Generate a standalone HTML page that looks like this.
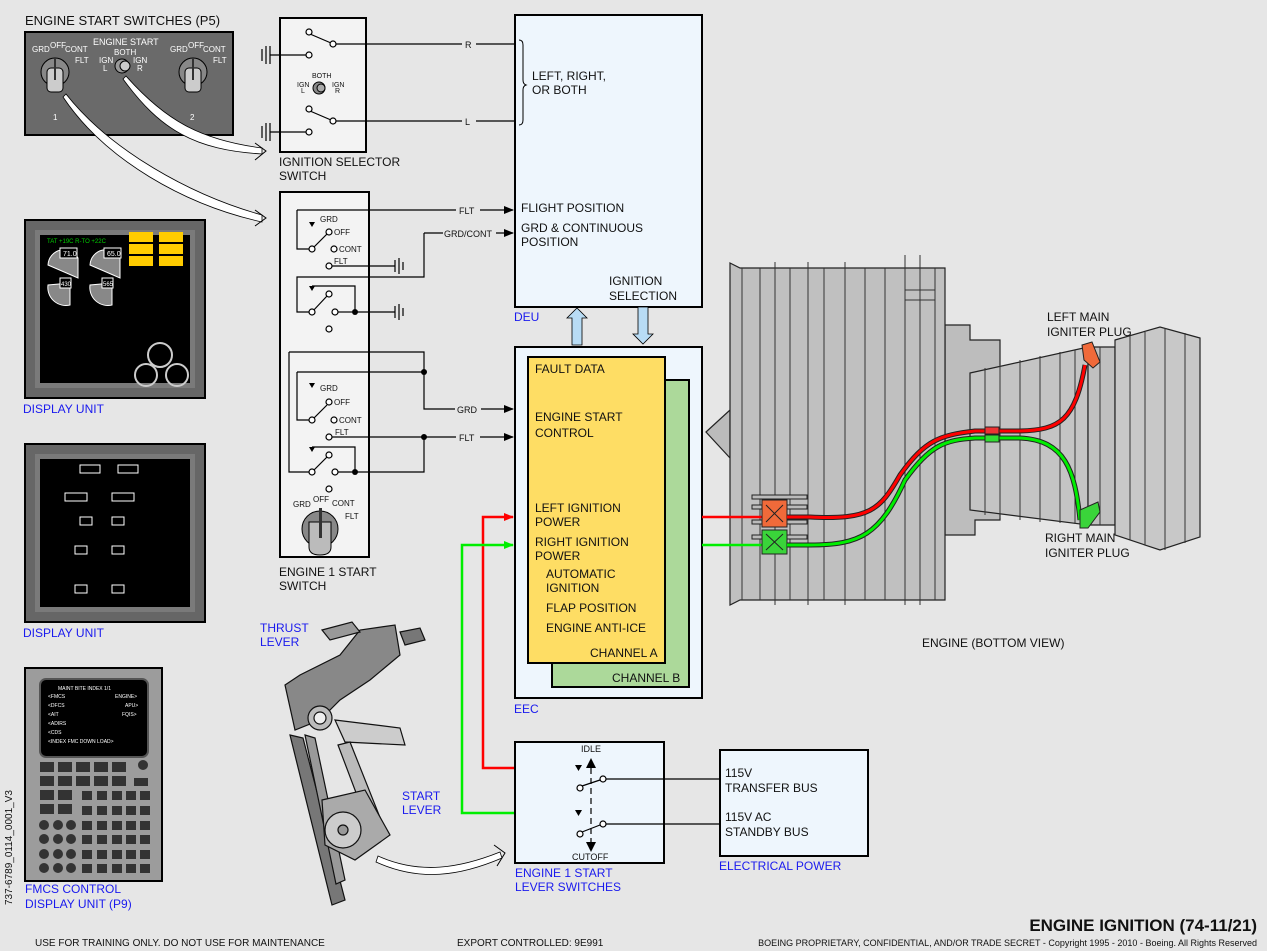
<!DOCTYPE html>
<html><head><meta charset="utf-8"><style>
html,body{margin:0;padding:0;background:#e6e6e6}
svg{display:block}
text{font-family:"Liberation Sans",sans-serif;fill:#111}
.b{fill:#1a1aee}
.w{fill:#fff}
</style></head><body>
<svg width="1267" height="951" viewBox="0 0 1267 951" xmlns="http://www.w3.org/2000/svg">
<defs>
<marker id="ar" markerWidth="10" markerHeight="8" refX="9" refY="4" orient="auto" markerUnits="userSpaceOnUse"><path d="M0,0 L10,4 L0,8 z" fill="#000"/></marker>
<marker id="arr" markerWidth="10" markerHeight="8" refX="9" refY="4" orient="auto" markerUnits="userSpaceOnUse"><path d="M0,0 L10,4 L0,8 z" fill="#f00"/></marker>
<marker id="arg" markerWidth="10" markerHeight="8" refX="9" refY="4" orient="auto" markerUnits="userSpaceOnUse"><path d="M0,0 L10,4 L0,8 z" fill="#0e0"/></marker>
</defs>
<rect width="1267" height="951" fill="#e6e6e6"/>

<!-- P5 panel -->
<text x="25" y="25" font-size="13">ENGINE START SWITCHES (P5)</text>
<rect x="25" y="32" width="208" height="103" fill="#6a6a6a" stroke="#000" stroke-width="2"/>
<g font-size="8" class="w">
<text x="32" y="52" class="w">GRD</text><text x="50" y="48" class="w">OFF</text><text x="65" y="52" class="w">CONT</text><text x="75" y="63" class="w">FLT</text>
<text x="93" y="45" class="w" font-size="9">ENGINE START</text><text x="114" y="55" class="w">BOTH</text>
<text x="99" y="63" class="w">IGN</text><text x="103" y="71" class="w">L</text><text x="133" y="63" class="w">IGN</text><text x="137" y="71" class="w">R</text>
<text x="170" y="52" class="w">GRD</text><text x="188" y="48" class="w">OFF</text><text x="203" y="52" class="w">CONT</text><text x="213" y="63" class="w">FLT</text>
<text x="53" y="120" class="w">1</text><text x="190" y="120" class="w">2</text>
</g>
<circle cx="55" cy="72" r="14" fill="#888" stroke="#000"/><rect x="47" y="68" width="16" height="24" rx="4" fill="#ccc" stroke="#000"/><rect x="54" y="58" width="2" height="22" fill="#333"/>
<circle cx="193" cy="72" r="14" fill="#888" stroke="#000"/><rect x="185" y="68" width="16" height="24" rx="4" fill="#ccc" stroke="#000"/><rect x="192" y="58" width="2" height="22" fill="#333"/>
<circle cx="122" cy="66" r="7" fill="#999" stroke="#000"/><circle cx="125" cy="66" r="5" fill="#ccc" stroke="#000"/>
<path d="M126,76 C165,120 200,140 262,148 L262,154 C195,150 160,130 123,79 Z" fill="#fff" stroke="#000" stroke-width="0.8"/>
<path d="M66,94 C110,150 190,195 262,215 L262,222 C185,205 105,160 63,97 Z" fill="#fff" stroke="#000" stroke-width="0.8"/>
<path d="M255,143 L266,151 L255,160" fill="none" stroke="#000"/>
<path d="M255,210 L266,218 L255,226" fill="none" stroke="#000"/>

<!-- Display unit 1 -->
<rect x="25" y="220" width="180" height="178" fill="#666" stroke="#000" stroke-width="2"/>
<rect x="35" y="230" width="160" height="158" fill="#7a7a7a"/>
<rect x="40" y="235" width="150" height="148" fill="#000"/>
<text x="47" y="243" font-size="6" style="fill:#0c0">TAT +19C   R-TO  +22C</text>
<rect x="129" y="232" width="24" height="10" fill="#fc0"/><rect x="129" y="244" width="24" height="10" fill="#fc0"/><rect x="129" y="256" width="24" height="10" fill="#fc0"/>
<rect x="159" y="232" width="24" height="10" fill="#fc0"/><rect x="159" y="244" width="24" height="10" fill="#fc0"/><rect x="159" y="256" width="24" height="10" fill="#fc0"/>
<path d="M48,265 A16,16 0 0 1 78,258 L78,278 Z" fill="#888" stroke="#fff"/><rect x="60" y="248" width="17" height="10" fill="#000" stroke="#fff"/><text x="63" y="256" font-size="7" class="w">71.0</text>
<path d="M90,265 A16,16 0 0 1 120,258 L120,278 Z" fill="#888" stroke="#fff"/><rect x="104" y="248" width="17" height="10" fill="#000" stroke="#fff"/><text x="107" y="256" font-size="7" class="w">65.0</text>
<path d="M48,285 A18,18 0 0 0 70,305 L70,283 Z" fill="#888" stroke="#fff"/><rect x="60" y="278" width="11" height="10" fill="#000" stroke="#fff"/><text x="61" y="286" font-size="6" class="w">430</text>
<path d="M90,285 A18,18 0 0 0 112,305 L112,283 Z" fill="#888" stroke="#fff"/><rect x="102" y="278" width="11" height="10" fill="#000" stroke="#fff"/><text x="103" y="286" font-size="6" class="w">565</text>
<circle cx="160" cy="355" r="12" fill="none" stroke="#ccc" stroke-width="2"/><circle cx="146" cy="375" r="11" fill="none" stroke="#ccc" stroke-width="2"/><circle cx="177" cy="375" r="11" fill="none" stroke="#ccc" stroke-width="2"/>
<text x="23" y="413" font-size="12" class="b">DISPLAY UNIT</text>

<!-- Display unit 2 -->
<rect x="25" y="444" width="180" height="178" fill="#666" stroke="#000" stroke-width="2"/>
<rect x="35" y="454" width="160" height="158" fill="#7a7a7a"/>
<rect x="40" y="459" width="150" height="148" fill="#000"/>
<rect x="80" y="465" width="20" height="8" fill="#000" stroke="#fff"/><rect x="118" y="465" width="20" height="8" fill="#000" stroke="#fff"/>
<rect x="65" y="493" width="22" height="8" fill="#000" stroke="#fff"/><rect x="112" y="493" width="22" height="8" fill="#000" stroke="#fff"/>
<rect x="80" y="517" width="12" height="8" fill="#000" stroke="#fff"/><rect x="112" y="517" width="12" height="8" fill="#000" stroke="#fff"/>
<rect x="75" y="546" width="12" height="8" fill="#000" stroke="#fff"/><rect x="112" y="546" width="12" height="8" fill="#000" stroke="#fff"/>
<rect x="75" y="585" width="12" height="8" fill="#000" stroke="#fff"/><rect x="112" y="585" width="12" height="8" fill="#000" stroke="#fff"/>
<text x="23" y="637" font-size="12" class="b">DISPLAY UNIT</text>

<!-- FMCS -->
<rect x="25" y="668" width="137" height="213" fill="#9c9c9c" stroke="#000" stroke-width="2"/>
<rect x="40" y="679" width="108" height="78" rx="6" fill="#000" stroke="#555" stroke-width="2"/>
<g font-size="5" class="w"><text x="58" y="690" class="w">MAINT BITE INDEX  1/1</text><text x="48" y="698" class="w">&lt;FMCS</text><text x="115" y="698" class="w">ENGINE&gt;</text><text x="48" y="707" class="w">&lt;DFCS</text><text x="125" y="707" class="w">APU&gt;</text><text x="48" y="716" class="w">&lt;AIT</text><text x="122" y="716" class="w">FQIS&gt;</text><text x="48" y="725" class="w">&lt;ADIRS</text><text x="48" y="734" class="w">&lt;CDS</text><text x="48" y="743" class="w">&lt;INDEX    FMC DOWN LOAD&gt;</text></g>
<g fill="#333">
<rect x="40" y="762" width="14" height="10"/><rect x="58" y="762" width="14" height="10"/><rect x="76" y="762" width="14" height="10"/><rect x="94" y="762" width="14" height="10"/><rect x="112" y="762" width="14" height="10"/>
<rect x="40" y="776" width="14" height="10"/><rect x="58" y="776" width="14" height="10"/><rect x="76" y="776" width="14" height="10"/><rect x="94" y="776" width="14" height="10"/><rect x="112" y="776" width="14" height="10"/><rect x="134" y="778" width="14" height="8"/>
<rect x="40" y="790" width="14" height="10"/><rect x="58" y="790" width="14" height="10"/>
<rect x="40" y="804" width="14" height="10"/><rect x="58" y="804" width="14" height="10"/>
<rect x="82" y="791" width="10" height="9"/><rect x="97" y="791" width="10" height="9"/><rect x="112" y="791" width="10" height="9"/><rect x="126" y="791" width="10" height="9"/><rect x="140" y="791" width="10" height="9"/>
<rect x="82" y="806" width="10" height="9"/><rect x="97" y="806" width="10" height="9"/><rect x="112" y="806" width="10" height="9"/><rect x="126" y="806" width="10" height="9"/><rect x="140" y="806" width="10" height="9"/>
<rect x="82" y="821" width="10" height="9"/><rect x="97" y="821" width="10" height="9"/><rect x="112" y="821" width="10" height="9"/><rect x="126" y="821" width="10" height="9"/><rect x="140" y="821" width="10" height="9"/>
<rect x="82" y="835" width="10" height="9"/><rect x="97" y="835" width="10" height="9"/><rect x="112" y="835" width="10" height="9"/><rect x="126" y="835" width="10" height="9"/><rect x="140" y="835" width="10" height="9"/>
<rect x="82" y="850" width="10" height="9"/><rect x="97" y="850" width="10" height="9"/><rect x="112" y="850" width="10" height="9"/><rect x="126" y="850" width="10" height="9"/><rect x="140" y="850" width="10" height="9"/>
<rect x="82" y="864" width="10" height="9"/><rect x="97" y="864" width="10" height="9"/><rect x="112" y="864" width="10" height="9"/><rect x="126" y="864" width="10" height="9"/><rect x="140" y="864" width="10" height="9"/>
<circle cx="44" cy="825" r="5"/><circle cx="58" cy="825" r="5"/><circle cx="71" cy="825" r="5"/>
<circle cx="44" cy="839" r="5"/><circle cx="58" cy="839" r="5"/><circle cx="71" cy="839" r="5"/>
<circle cx="44" cy="854" r="5"/><circle cx="58" cy="854" r="5"/><circle cx="71" cy="854" r="5"/>
<circle cx="44" cy="868" r="5"/><circle cx="58" cy="868" r="5"/><circle cx="71" cy="868" r="5"/>
<circle cx="143" cy="765" r="5"/>
</g>
<text x="25" y="893" font-size="12" class="b">FMCS CONTROL</text>
<text x="25" y="908" font-size="12" class="b">DISPLAY UNIT (P9)</text>
<text transform="translate(12,905) rotate(-90)" font-size="10">737-6789_0114_0001_V3</text>

<!-- Ignition selector switch -->
<rect x="280" y="18" width="86" height="134" fill="#f3f3f3" stroke="#000" stroke-width="2"/>
<g stroke="#000" stroke-width="1.2" fill="none">
<path d="M262,49 v12 M266,46 v18 M270,46 v18 M270,55 H306"/>
<path d="M262,126 v12 M266,123 v18 M270,123 v18 M270,132 H306"/>
<path d="M310,34 L331,43 M336,44 H515 M310,111 L331,120 M336,121 H515"/>
</g>
<g fill="#fff" stroke="#000" stroke-width="1.2">
<circle cx="309" cy="32" r="3"/><circle cx="333" cy="44" r="3"/><circle cx="309" cy="55" r="3"/>
<circle cx="309" cy="109" r="3"/><circle cx="333" cy="121" r="3"/><circle cx="309" cy="132" r="3"/>
</g>
<rect x="462" y="38" width="14" height="12" fill="#e6e6e6"/><text x="465" y="48" font-size="9">R</text>
<rect x="462" y="115" width="14" height="12" fill="#e6e6e6"/><text x="465" y="125" font-size="9">L</text>
<text x="312" y="78" font-size="7">BOTH</text><text x="297" y="87" font-size="7">IGN</text><text x="301" y="93" font-size="7">L</text><text x="332" y="87" font-size="7">IGN</text><text x="335" y="93" font-size="7">R</text>
<circle cx="319" cy="88" r="6" fill="#888" stroke="#000"/><circle cx="321" cy="88" r="4" fill="#aaa" stroke="#000"/>
<text x="279" y="166" font-size="12">IGNITION SELECTOR</text>
<text x="279" y="180" font-size="12">SWITCH</text>

<!-- DEU -->
<rect x="515" y="15" width="187" height="292" fill="#eef6fd" stroke="#000" stroke-width="2"/>
<path d="M519,40 q4,0 4,5 v35 q0,4 3,5 q-3,1 -3,5 v30 q0,5 -4,5" fill="none" stroke="#000"/>
<text x="532" y="80" font-size="12">LEFT, RIGHT,</text><text x="532" y="94" font-size="12">OR BOTH</text>
<text x="521" y="212" font-size="12">FLIGHT POSITION</text>
<text x="521" y="232" font-size="12">GRD &amp; CONTINUOUS</text><text x="521" y="246" font-size="12">POSITION</text>
<text x="609" y="285" font-size="12">IGNITION</text><text x="609" y="300" font-size="12">SELECTION</text>
<text x="514" y="321" font-size="12" class="b">DEU</text>
<path d="M572,345 V318 H567 L577,308 L587,318 H582 V345 Z" fill="#b8dcf5" stroke="#000" stroke-width="0.8"/>
<path d="M638,307 V334 H633 L643,344 L653,334 H648 V307 Z" fill="#b8dcf5" stroke="#000" stroke-width="0.8"/>

<!-- Engine start switch -->
<rect x="280" y="192" width="89" height="365" fill="#f3f3f3" stroke="#000" stroke-width="2"/>
<g stroke="#000" stroke-width="1.2" fill="none">
<path d="M297,210 H513" marker-end="url(#ar)"/>
<path d="M297,210 V249 H309"/>
<path d="M424,233 H513" marker-end="url(#ar)"/>
<path d="M424,233 V277 H297 V312 H309"/>
<path d="M312,249 L327,234"/><path d="M312,312 L327,296"/>
<path d="M332,266 H395 M395,260 v12 M399,258 v16 M403,262 v8"/>
<path d="M312,286 H355 V312 H395 M395,306 v12 M399,304 v16 M403,308 v8"/>
<path d="M338,312 H352"/>
<path d="M289,352 H424 V409 H513" marker-end="url(#ar)"/>
<path d="M289,352 V472 H309"/>
<path d="M297,372 H424 M297,372 V420 H309"/>
<path d="M312,420 L327,405"/>
<path d="M332,437 H513" marker-end="url(#ar)"/>
<path d="M424,437 V472 H355 M338,472 H352 M312,447 H355 V472"/>
<path d="M312,472 L327,457"/>
</g>
<rect x="456" y="204" width="24" height="12" fill="#e6e6e6"/><text x="459" y="214" font-size="9">FLT</text>
<rect x="443" y="227" width="53" height="12" fill="#e6e6e6"/><text x="444" y="237" font-size="9">GRD/CONT</text>
<rect x="455" y="403" width="26" height="12" fill="#e6e6e6"/><text x="457" y="413" font-size="9">GRD</text>
<rect x="456" y="431" width="24" height="12" fill="#e6e6e6"/><text x="459" y="441" font-size="9">FLT</text>
<g fill="#000"><circle cx="355" cy="312" r="3"/><circle cx="424" cy="372" r="3"/><circle cx="424" cy="437" r="3"/><circle cx="355" cy="472" r="3"/>
<path d="M309,222 h6 l-3,5 z"/><path d="M309,286 h6 l-3,5 z"/><path d="M309,383 h6 l-3,5 z"/><path d="M309,447 h6 l-3,5 z"/></g>
<g fill="#fff" stroke="#000" stroke-width="1.2">
<circle cx="312" cy="249" r="3"/><circle cx="329" cy="232" r="3"/><circle cx="334" cy="249" r="3"/><circle cx="329" cy="266" r="3"/>
<circle cx="312" cy="312" r="3"/><circle cx="329" cy="294" r="3"/><circle cx="335" cy="312" r="3"/><circle cx="329" cy="329" r="3"/>
<circle cx="312" cy="420" r="3"/><circle cx="329" cy="402" r="3"/><circle cx="334" cy="420" r="3"/><circle cx="329" cy="437" r="3"/>
<circle cx="312" cy="472" r="3"/><circle cx="329" cy="455" r="3"/><circle cx="335" cy="472" r="3"/><circle cx="329" cy="489" r="3"/>
</g>
<g font-size="8"><text x="320" y="222">GRD</text><text x="334" y="235">OFF</text><text x="339" y="252">CONT</text><text x="334" y="264">FLT</text>
<text x="320" y="391">GRD</text><text x="334" y="405">OFF</text><text x="339" y="423">CONT</text><text x="335" y="435">FLT</text>
<text x="293" y="507">GRD</text><text x="313" y="502">OFF</text><text x="332" y="506">CONT</text><text x="345" y="519">FLT</text></g>
<circle cx="320" cy="529" r="18" fill="#888" stroke="#000"/>
<path d="M309,522 h22 v25 q0,8 -11,8 q-11,0 -11,-8 z" fill="#bbb" stroke="#000"/>
<rect x="319" y="508" width="3" height="30" fill="#333"/>
<text x="279" y="576" font-size="12">ENGINE 1 START</text><text x="279" y="590" font-size="12">SWITCH</text>

<!-- EEC -->
<rect x="515" y="347" width="187" height="351" fill="#eef6fd" stroke="#000" stroke-width="2"/>
<rect x="552" y="380" width="137" height="307" fill="#acd99a" stroke="#000" stroke-width="2"/>
<rect x="528" y="357" width="137" height="306" fill="#fedd64" stroke="#000" stroke-width="2"/>
<g font-size="12"><text x="535" y="373">FAULT DATA</text><text x="535" y="421">ENGINE START</text><text x="535" y="437">CONTROL</text>
<text x="535" y="512">LEFT IGNITION</text><text x="535" y="526">POWER</text><text x="535" y="546">RIGHT IGNITION</text><text x="535" y="560">POWER</text>
<text x="546" y="578">AUTOMATIC</text><text x="546" y="592">IGNITION</text><text x="546" y="612">FLAP POSITION</text><text x="546" y="632">ENGINE ANTI-ICE</text>
<text x="590" y="657">CHANNEL A</text><text x="612" y="682">CHANNEL B</text></g>
<text x="514" y="713" font-size="12" class="b">EEC</text>

<path d="M578,768 H483 V517 H513" fill="none" stroke="#f00" stroke-width="2.5" marker-end="url(#arr)"/>
<path d="M578,813 H462 V545 H513" fill="none" stroke="#0e0" stroke-width="2.5" marker-end="url(#arg)"/>

<!-- Lever switches -->
<rect x="515" y="742" width="149" height="121" fill="#eef6fd" stroke="#000" stroke-width="2"/>
<text x="581" y="752" font-size="9">IDLE</text><text x="572" y="860" font-size="9">CUTOFF</text>
<path d="M591,768 V850" stroke="#000" stroke-width="1.2" stroke-dasharray="6,4"/>
<path d="M586,768 L591,758 L596,768 z M586,842 L591,852 L596,842 z"/>
<path d="M575,765 h7 l-3.5,6 z M575,810 h7 l-3.5,6 z"/>
<g stroke="#000" stroke-width="1.2" fill="none"><path d="M582,786 L600,780 M606,779 H720 M582,832 L600,825 M606,824 H720"/></g>
<g fill="#fff" stroke="#000" stroke-width="1.2"><circle cx="580" cy="788" r="3"/><circle cx="603" cy="779" r="3"/><circle cx="580" cy="834" r="3"/><circle cx="603" cy="824" r="3"/></g>
<text x="515" y="877" font-size="12" class="b">ENGINE 1 START</text><text x="515" y="891" font-size="12" class="b">LEVER SWITCHES</text>

<rect x="720" y="750" width="148" height="106" fill="#eef6fd" stroke="#000" stroke-width="2"/>
<g font-size="12"><text x="725" y="777">115V</text><text x="725" y="792">TRANSFER BUS</text><text x="725" y="821">115V AC</text><text x="725" y="836">STANDBY BUS</text></g>
<text x="719" y="870" font-size="12" class="b">ELECTRICAL POWER</text>

<!-- Thrust lever -->
<g stroke="#111" stroke-width="1.2">
<path d="M290,735 L303,738 L345,900 L332,905 Z" fill="#777"/>
<path d="M305,735 L315,738 L345,880 L336,884 Z" fill="#999"/>
<path d="M285,685 L300,675 L340,655 L360,630 L395,625 L400,655 L370,680 L340,700 L320,720 L295,730 Z" fill="#888"/>
<path d="M322,630 L352,622 L360,632 L330,640 Z" fill="#999"/>
<path d="M400,632 L420,628 L425,640 L405,645 Z" fill="#777"/>
<circle cx="320" cy="718" r="12" fill="#bbb"/><circle cx="320" cy="718" r="6" fill="#eee"/>
<path d="M335,720 L400,728 L405,745 L345,742 Z" fill="#ccc"/>
<path d="M338,745 L350,742 L385,830 L372,835 Z" fill="#bbb"/>
<path d="M322,800 L365,790 L390,835 L355,860 L325,845 Z" fill="#aaa"/>
<circle cx="343" cy="830" r="18" fill="#ccc"/><circle cx="343" cy="830" r="5" fill="#999"/>
</g>
<text x="260" y="632" font-size="12" class="b">THRUST</text><text x="260" y="646" font-size="12" class="b">LEVER</text>
<text x="402" y="800" font-size="12" class="b">START</text><text x="402" y="814" font-size="12" class="b">LEVER</text>
<path d="M378,856 C420,875 460,868 500,852 L502,858 C460,876 420,882 376,862 Z" fill="#fff" stroke="#000" stroke-width="0.8"/>
<path d="M494,845 L505,853 L497,866" fill="none" stroke="#000"/>

<!-- Engine -->
<g stroke="#222" stroke-width="1.2" fill="#c0c0c0">
<path d="M706,432 L730,410 L730,458 Z" fill="#bbb"/>
<path d="M945,325 L970,325 L970,340 L1000,340 L1000,520 L975,520 L975,535 L945,535 Z" fill="#bdbdbd"/>
<path d="M730,263 L740,268 L945,268 L945,600 L740,600 L730,605 Z"/>
<path d="M970,373 L1088,347 L1088,525 L970,510 Z" fill="#c4c4c4"/>
<path d="M1088,347 L1115,347 L1115,525 L1088,525 Z"/>
<path d="M1115,340 L1160,327 L1200,338 L1200,537 L1160,550 L1115,535 Z" fill="#c8c8c8"/>
</g>
<g stroke="#333" stroke-width="1" fill="none">
<path d="M742,268 V600 M760,268 V600 M775,262 V605 M790,268 V600 M808,262 V605 M824,268 V600 M845,262 V605 M865,268 V600 M885,268 V600 M905,255 V605 M920,255 V605 M935,268 V600"/>
<path d="M985,368 V515 M1000,365 V518 M1020,360 V520 M1040,356 V522 M1060,352 V523 M1075,350 V524 M1100,347 V525 M1130,336 V540 M1145,332 V545 M1165,328 V550 M1185,333 V543"/>
<path d="M905,290 H935 M905,300 H935"/>
</g>
<g stroke="#222" fill="#bbb"><rect x="752" y="495" width="55" height="4"/><rect x="752" y="505" width="55" height="4"/><rect x="752" y="520" width="55" height="4"/><rect x="752" y="535" width="55" height="4"/></g>
<path d="M702,517 H762" stroke="#f00" stroke-width="2.5"/>
<path d="M702,545 H762" stroke="#0e0" stroke-width="2.5"/>
<rect x="762" y="500" width="25" height="27" fill="#f06a3a" stroke="#222"/><path d="M766,505 L783,522 M783,505 L766,522" stroke="#222"/>
<rect x="762" y="530" width="25" height="24" fill="#3ad43a" stroke="#222"/><path d="M766,534 L783,550 M783,534 L766,550" stroke="#222"/>
<path d="M787,517 H810 C870,520 880,510 900,475 C925,440 940,435 975,431 H1020 C1060,430 1075,420 1085,365" fill="none" stroke="#222" stroke-width="5"/>
<path d="M787,517 H810 C870,520 880,510 900,475 C925,440 940,435 975,431 H1020 C1060,430 1075,420 1085,365" fill="none" stroke="#f00" stroke-width="3"/>
<path d="M787,545 H810 C860,545 880,535 905,480 C930,445 945,440 975,438 H1020 C1065,440 1075,470 1080,520" fill="none" stroke="#222" stroke-width="5"/>
<path d="M787,545 H810 C860,545 880,535 905,480 C930,445 945,440 975,438 H1020 C1065,440 1075,470 1080,520" fill="none" stroke="#0e0" stroke-width="3"/>
<path d="M1082,345 L1092,342 L1100,362 L1093,368 L1084,360 Z" fill="#f06a3a" stroke="#222"/>
<path d="M1080,510 L1098,502 L1100,512 L1088,528 L1080,528 Z" fill="#3ad43a" stroke="#222"/>
<rect x="985" y="427" width="14" height="7" fill="#e33" stroke="#222"/><rect x="985" y="435" width="14" height="7" fill="#3d3" stroke="#222"/>
<text x="1047" y="321" font-size="12">LEFT MAIN</text><text x="1047" y="336" font-size="12">IGNITER PLUG</text>
<text x="1045" y="542" font-size="12">RIGHT MAIN</text><text x="1045" y="557" font-size="12">IGNITER PLUG</text>
<text x="922" y="647" font-size="12">ENGINE (BOTTOM VIEW)</text>

<!-- Footer -->
<text x="1257" y="931" font-size="17" font-weight="bold" text-anchor="end">ENGINE IGNITION (74-11/21)</text>
<text x="35" y="946" font-size="10">USE FOR TRAINING ONLY. DO NOT USE FOR MAINTENANCE</text>
<text x="457" y="946" font-size="10">EXPORT CONTROLLED: 9E991</text>
<text x="1257" y="946" font-size="9" text-anchor="end">BOEING PROPRIETARY, CONFIDENTIAL, AND/OR TRADE SECRET - Copyright 1995 - 2010 - Boeing. All Rights Reserved</text>
</svg>
</body></html>
